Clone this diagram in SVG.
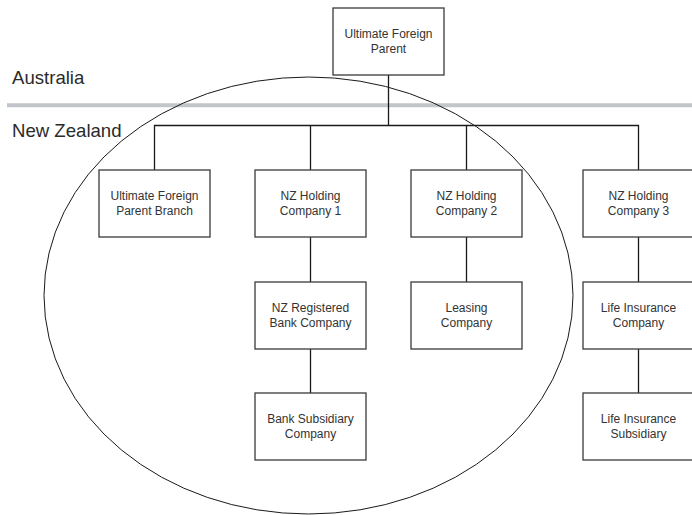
<svg xmlns="http://www.w3.org/2000/svg" width="692" height="515" viewBox="0 0 692 515">
<style>
.box{fill:#fff;stroke:#3a3a3a;stroke-width:1.3}
.lbl{font-family:"Liberation Sans",Arial,sans-serif;font-size:12px;fill:#333;text-anchor:middle}
.region{font-family:"Liberation Sans",Arial,sans-serif;font-size:18.6px;fill:#2a2a2a}
.conn{stroke:#1a1a1a;stroke-width:1.3;fill:none}
</style>
<rect x="0" y="0" width="692" height="515" fill="#fff"/>
<line x1="7" y1="105.3" x2="692" y2="105.3" stroke="#c2c5ca" stroke-width="4"/>
<text class="region" x="12" y="84">Australia</text>
<text class="region" x="12" y="137">New Zealand</text>
<ellipse cx="308.5" cy="295.5" rx="264.5" ry="218.5" fill="none" stroke="#1a1a1a" stroke-width="1"/>
<g id="connectors">
<path class="conn" d="M388.5 75V125.5M154.5 170V125.5H638.5V170M310.5 125.5V170M466.5 125.5V170"/>
<path class="conn" d="M310.5 237V282M310.5 349V393M466.5 237V282M638.5 237V282M638.5 349V393"/>
</g>
<g id="ultimate-foreign-parent"><rect class="box" x="333" y="8" width="111" height="67"/><text class="lbl" x="388.5" y="37.5">Ultimate Foreign</text><text class="lbl" x="388.5" y="53">Parent</text></g>
<g id="uf-parent-branch"><rect class="box" x="99" y="170" width="111" height="67"/><text class="lbl" x="154.5" y="199.5">Ultimate Foreign</text><text class="lbl" x="154.5" y="215">Parent Branch</text></g>
<g id="nz-holding-1"><rect class="box" x="255" y="170" width="111" height="67"/><text class="lbl" x="310.5" y="199.5">NZ Holding</text><text class="lbl" x="310.5" y="215">Company 1</text></g>
<g id="nz-holding-2"><rect class="box" x="411" y="170" width="111" height="67"/><text class="lbl" x="466.5" y="199.5">NZ Holding</text><text class="lbl" x="466.5" y="215">Company 2</text></g>
<g id="nz-holding-3"><rect class="box" x="583" y="170" width="111" height="67"/><text class="lbl" x="638.5" y="199.5">NZ Holding</text><text class="lbl" x="638.5" y="215">Company 3</text></g>
<g id="nz-registered-bank"><rect class="box" x="255" y="282" width="111" height="67"/><text class="lbl" x="310.5" y="311.5">NZ Registered</text><text class="lbl" x="310.5" y="327">Bank Company</text></g>
<g id="leasing-company"><rect class="box" x="411" y="282" width="111" height="67"/><text class="lbl" x="466.5" y="311.5">Leasing</text><text class="lbl" x="466.5" y="327">Company</text></g>
<g id="life-insurance-company"><rect class="box" x="583" y="282" width="111" height="67"/><text class="lbl" x="638.5" y="311.5">Life Insurance</text><text class="lbl" x="638.5" y="327">Company</text></g>
<g id="bank-subsidiary"><rect class="box" x="255" y="393" width="111" height="67"/><text class="lbl" x="310.5" y="422.5">Bank Subsidiary</text><text class="lbl" x="310.5" y="438">Company</text></g>
<g id="life-insurance-subsidiary"><rect class="box" x="583" y="393" width="111" height="67"/><text class="lbl" x="638.5" y="422.5">Life Insurance</text><text class="lbl" x="638.5" y="438">Subsidiary</text></g>
</svg>
